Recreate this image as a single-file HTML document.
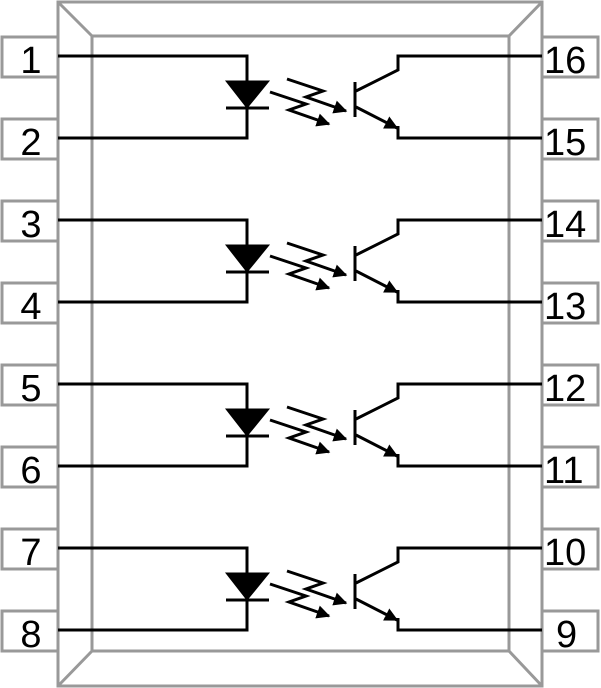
<!DOCTYPE html>
<html><head><style>body{margin:0;background:#fff}svg{display:block}</style></head><body>
<svg width="601" height="688" viewBox="0 0 601 688" xmlns="http://www.w3.org/2000/svg">
<defs>
<marker id="ah" viewBox="0 0 10 10" refX="9" refY="5" markerWidth="4.5" markerHeight="4.5" orient="auto"><path d="M0,0 L10,5 L0,10 z" fill="#000"/></marker>
<g id="ch" fill="none" stroke="#000" stroke-width="3">
<path d="M58,56 H247 V82 M247,108 V138 H58"/>
<path d="M226,81 H269 L247,108 Z" fill="#000" stroke-width="1"/>
<path d="M226,108 H269" stroke-width="3"/>
<path d="M287,79 L323,91 L306,97 L346,111" marker-end="url(#ah)" stroke-width="3"/>
<path d="M270,92 L306,104 L289,110 L329,124" marker-end="url(#ah)" stroke-width="3"/>
<path d="M355,82 V117" stroke-width="3"/>
<path d="M356,91 L398,70 V56 H542"/>
<path d="M356,107 L397,128" marker-end="url(#ah)"/>
<path d="M398,126 V138 H542"/>
</g>
</defs>
<g fill="none" stroke="#999" stroke-width="3">
<rect x="58" y="2" width="484" height="684"/>
<rect x="92" y="36" width="417" height="615"/>
<path d="M58,2 L92,36 M542,2 L509,36 M58,686 L92,651 M542,686 L509,651"/>
<g fill="#fff">
<rect x="2" y="37" width="56" height="40"/><rect x="2" y="119" width="56" height="40"/>
<rect x="2" y="201" width="56" height="40"/><rect x="2" y="283" width="56" height="40"/>
<rect x="2" y="365" width="56" height="40"/><rect x="2" y="447" width="56" height="40"/>
<rect x="2" y="529" width="56" height="40"/><rect x="2" y="611" width="56" height="40"/>
<rect x="542" y="37" width="56" height="40"/><rect x="542" y="119" width="56" height="40"/>
<rect x="542" y="201" width="56" height="40"/><rect x="542" y="283" width="56" height="40"/>
<rect x="542" y="365" width="56" height="40"/><rect x="542" y="447" width="56" height="40"/>
<rect x="542" y="529" width="56" height="40"/><rect x="542" y="611" width="56" height="40"/>
</g>
</g>
<use href="#ch"/>
<use href="#ch" y="164"/>
<use href="#ch" y="328"/>
<use href="#ch" y="492"/>
<g font-family="Liberation Sans, sans-serif" font-size="38" fill="#000">
<g text-anchor="middle">
<text x="31" y="73">1</text><text x="31" y="155">2</text>
<text x="31" y="237">3</text><text x="31" y="319">4</text>
<text x="31" y="401">5</text><text x="31" y="483">6</text>
<text x="31" y="565">7</text><text x="31" y="647">8</text>
</g>
<text x="544" y="73">16</text><text x="544" y="155">15</text>
<text x="544" y="237">14</text><text x="544" y="319">13</text>
<text x="544" y="401">12</text><text x="544" y="483">11</text>
<text x="544" y="565">10</text><text x="556" y="647">9</text>
</g>
</svg>
</body></html>
